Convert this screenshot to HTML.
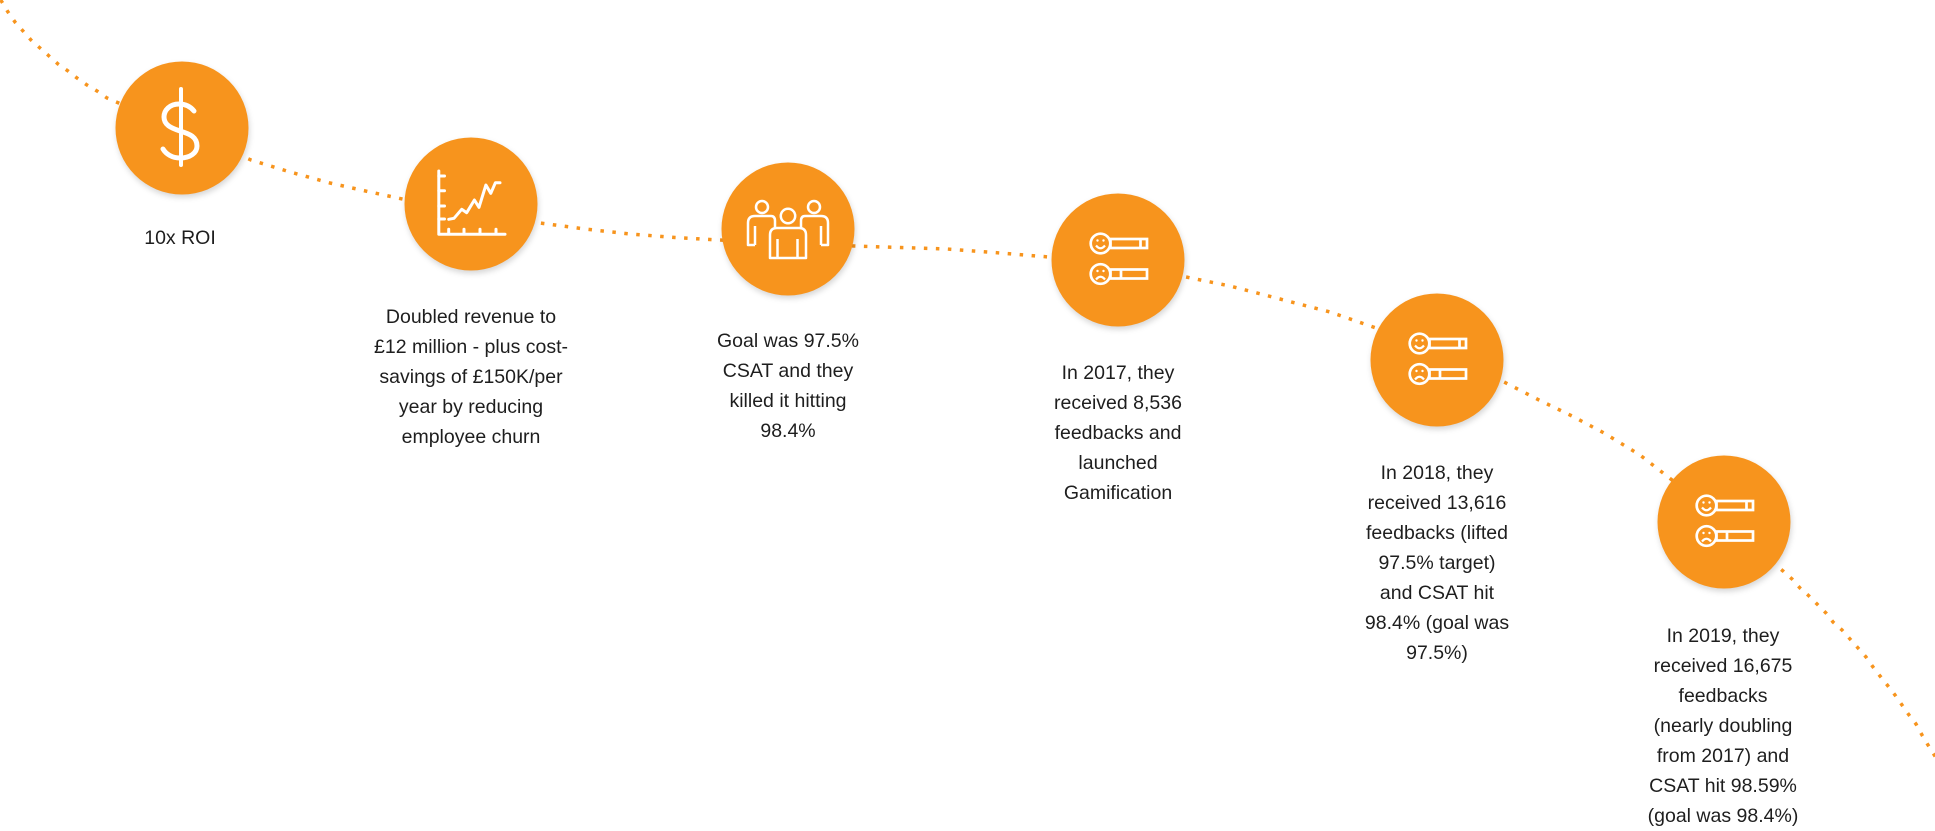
<!DOCTYPE html>
<html>
<head>
<meta charset="utf-8">
<style>
  html, body { margin:0; padding:0; background:#ffffff; }
  body { width:1935px; height:827px; position:relative; overflow:hidden; }
  svg { position:absolute; left:0; top:0; }
  .t {
    position:absolute; width:300px; text-align:center; white-space:nowrap;
    font-family:"Liberation Sans", "DejaVu Sans", sans-serif;
    font-size:19.5px; line-height:30px; color:#1e1e1e;
  }
  .c { filter: drop-shadow(1px 3px 3px rgba(0,0,0,0.16)); }
</style>
</head>
<body>
<svg width="1935" height="827" viewBox="0 0 1935 827" xmlns="http://www.w3.org/2000/svg">
  <polyline fill="none" stroke="#F7941D" stroke-width="3.5" stroke-dasharray="3.5 8.5"
    points="-6,-10 2,2 8,12 15,22 23,31 31,40 40,48 49,56 58,64 68,71 77,78 87,85 97,91 107,98 182,130 251,160 290,172 330,183 370,192 407,200 471,211 540,223 585,229 630,234 675,237.5 719,240 788,243 854,246 900,247.5 947,249 1000,253 1049,257 1118,267 1186,277 1230,286 1280,299 1330,312 1376,328 1437,354 1504,382 1539,400 1572,416 1604,433 1640,455 1672,480 1724,522 1783,571 1792,579 1800,588 1809,596 1817,604 1826,613 1833,622 1842,630 1850,639 1858,648 1866,657 1873,667 1880,676 1888,686 1895,695 1902,705 1909,715 1916,724 1922,735 1928,745 1945,772"/>

  <g class="c" fill="#F7941D">
    <circle cx="182" cy="128" r="66.5"/>
    <circle cx="471" cy="204" r="66.5"/>
    <circle cx="788" cy="229" r="66.5"/>
    <circle cx="1118" cy="260" r="66.5"/>
    <circle cx="1437" cy="360" r="66.5"/>
    <circle cx="1724" cy="522" r="66.5"/>
  </g>

  <!-- Dollar -->
  <g fill="none" stroke="#fff" stroke-linecap="round">
    <line x1="181" y1="89" x2="181" y2="165" stroke-width="4"/>
    <path d="M194,111 C190,106 185,104 179,104 C170,104 164,110 164,117 C164,125 171,128 180,131 C190,134 197,137 197,146 C197,153 190,158 180,158 C172,158 166,154 163,149" stroke-width="5"/>
  </g>

  <!-- Chart -->
  <g fill="none" stroke="#fff" stroke-width="3" stroke-linecap="round" stroke-linejoin="round">
    <path d="M438.8,171 V234.3 H505"/>
    <path d="M438.8,176 H444.5 M438.8,190.7 H444.5 M438.8,206 H444.5 M438.8,219 H444.5"/>
    <path d="M448.7,234 V229.3 M464,234 V229.3 M480,234 V229.3 M496,234 V229.3"/>
    <polyline points="448.7,219.3 454,218.3 461.7,209.3 466.7,212.7 474.4,200 479,207.3 485.9,185 490.8,193.3 495.4,182.7 500,182.7"/>
  </g>

  <!-- People -->
  <g transform="translate(788,229)" stroke="#fff" stroke-width="2.5" stroke-linejoin="round" fill="none">
    <circle cx="-26" cy="-22" r="6"/>
    <path d="M-33,16 H-40 V-6 Q-40,-13 -33,-13 H-17 Q-13,-13 -13,-8 V-1"/>
    <line x1="-33" y1="-3" x2="-33" y2="16"/>
    <circle cx="26" cy="-22" r="6"/>
    <path d="M33,16 H40 V-6 Q40,-13 33,-13 H17 Q13,-13 13,-8 V-1"/>
    <line x1="33" y1="-3" x2="33" y2="16"/>
    <path d="M-18,29 V6 Q-18,-1 -11,-1 H11 Q18,-1 18,6 V29 Z" fill="#F7941D"/>
    <line x1="-10.5" y1="10" x2="-10.5" y2="29"/>
    <line x1="9.5" y1="10" x2="9.5" y2="29"/>
    <circle cx="0" cy="-13" r="7.2" fill="#F7941D"/>
  </g>

  <!-- Feedback icon definitions (inline, repeated) -->
  <g transform="translate(1118,260)" stroke="#fff" stroke-width="2.7" fill="none">
    <circle cx="-17.5" cy="-16.5" r="9.8"/>
    <rect x="-7.5" y="-21" width="36.5" height="9"/>
    <line x1="22.5" y1="-21" x2="22.5" y2="-12"/>
    <circle cx="-20.5" cy="-19.5" r="1.2" fill="#fff" stroke="none"/>
    <circle cx="-14.5" cy="-19.5" r="1.2" fill="#fff" stroke="none"/>
    <path d="M-22,-14.5 Q-17.5,-9 -13,-14.5" stroke-width="2.2"/>
    <circle cx="-17.5" cy="14" r="9.8"/>
    <rect x="-7.5" y="9.5" width="36.5" height="9"/>
    <line x1="3" y1="9.5" x2="3" y2="18.5"/>
    <circle cx="-20.5" cy="11" r="1.2" fill="#fff" stroke="none"/>
    <circle cx="-14.5" cy="11" r="1.2" fill="#fff" stroke="none"/>
    <path d="M-22,19.5 Q-17.5,14 -13,19.5" stroke-width="2.2"/>
  </g>
  <g transform="translate(1437,360)" stroke="#fff" stroke-width="2.7" fill="none">
    <circle cx="-17.5" cy="-16.5" r="9.8"/>
    <rect x="-7.5" y="-21" width="36.5" height="9"/>
    <line x1="22.5" y1="-21" x2="22.5" y2="-12"/>
    <circle cx="-20.5" cy="-19.5" r="1.2" fill="#fff" stroke="none"/>
    <circle cx="-14.5" cy="-19.5" r="1.2" fill="#fff" stroke="none"/>
    <path d="M-22,-14.5 Q-17.5,-9 -13,-14.5" stroke-width="2.2"/>
    <circle cx="-17.5" cy="14" r="9.8"/>
    <rect x="-7.5" y="9.5" width="36.5" height="9"/>
    <line x1="3" y1="9.5" x2="3" y2="18.5"/>
    <circle cx="-20.5" cy="11" r="1.2" fill="#fff" stroke="none"/>
    <circle cx="-14.5" cy="11" r="1.2" fill="#fff" stroke="none"/>
    <path d="M-22,19.5 Q-17.5,14 -13,19.5" stroke-width="2.2"/>
  </g>
  <g transform="translate(1724,522)" stroke="#fff" stroke-width="2.7" fill="none">
    <circle cx="-17.5" cy="-16.5" r="9.8"/>
    <rect x="-7.5" y="-21" width="36.5" height="9"/>
    <line x1="22.5" y1="-21" x2="22.5" y2="-12"/>
    <circle cx="-20.5" cy="-19.5" r="1.2" fill="#fff" stroke="none"/>
    <circle cx="-14.5" cy="-19.5" r="1.2" fill="#fff" stroke="none"/>
    <path d="M-22,-14.5 Q-17.5,-9 -13,-14.5" stroke-width="2.2"/>
    <circle cx="-17.5" cy="14" r="9.8"/>
    <rect x="-7.5" y="9.5" width="36.5" height="9"/>
    <line x1="3" y1="9.5" x2="3" y2="18.5"/>
    <circle cx="-20.5" cy="11" r="1.2" fill="#fff" stroke="none"/>
    <circle cx="-14.5" cy="11" r="1.2" fill="#fff" stroke="none"/>
    <path d="M-22,19.5 Q-17.5,14 -13,19.5" stroke-width="2.2"/>
  </g>
</svg>

<div class="t" style="left:30px; top:223px;">10x ROI</div>
<div class="t" style="left:321px; top:302px;">Doubled revenue to<br>£12 million - plus cost-<br>savings of £150K/per<br>year by reducing<br>employee churn</div>
<div class="t" style="left:638px; top:326px;">Goal was 97.5%<br>CSAT and they<br>killed it hitting<br>98.4%</div>
<div class="t" style="left:968px; top:358px;">In 2017, they<br>received 8,536<br>feedbacks and<br>launched<br>Gamification</div>
<div class="t" style="left:1287px; top:458px;">In 2018, they<br>received 13,616<br>feedbacks (lifted<br>97.5% target)<br>and CSAT hit<br>98.4% (goal was<br>97.5%)</div>
<div class="t" style="left:1573px; top:621px;">In 2019, they<br>received 16,675<br>feedbacks<br>(nearly doubling<br>from 2017) and<br>CSAT hit 98.59%<br>(goal was 98.4%)</div>
</body>
</html>
